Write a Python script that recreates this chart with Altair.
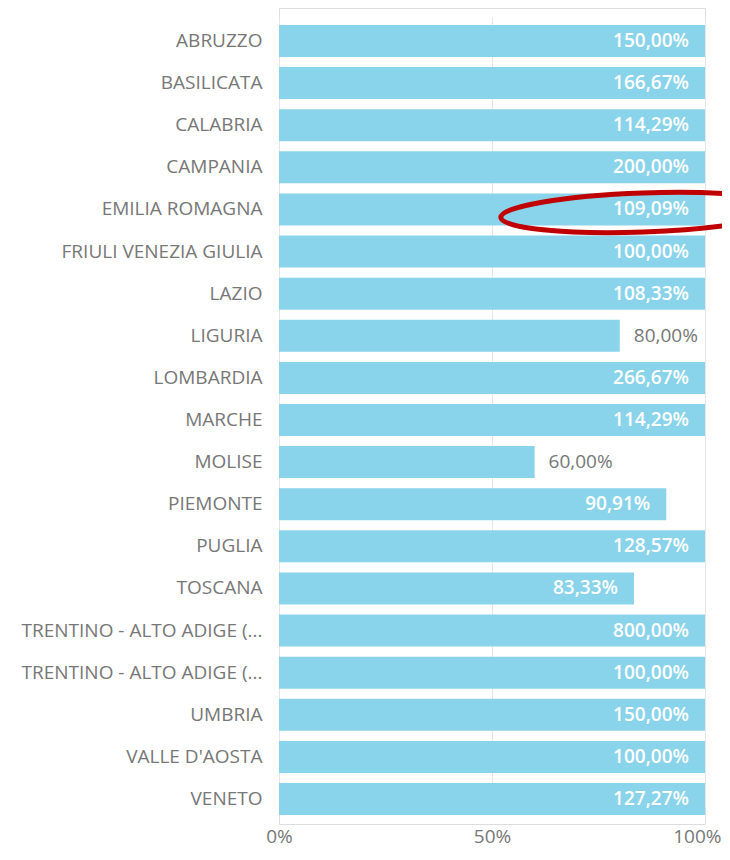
import altair as alt
import pandas as pd

regions = [
    "ABRUZZO", "BASILICATA", "CALABRIA", "CAMPANIA", "EMILIA ROMAGNA",
    "FRIULI VENEZIA GIULIA", "LAZIO", "LIGURIA", "LOMBARDIA", "MARCHE",
    "MOLISE", "PIEMONTE", "PUGLIA", "TOSCANA",
    "TRENTINO - ALTO ADIGE (BOLZANO)", "TRENTINO - ALTO ADIGE (TRENTO)",
    "UMBRIA", "VALLE D'AOSTA", "VENETO",
]
values = [
    150.00, 166.67, 114.29, 200.00, 109.09,
    100.00, 108.33, 80.00, 266.67, 114.29,
    60.00, 90.91, 128.57, 83.33,
    800.00, 100.00,
    150.00, 100.00, 127.27,
]
x_ticks = [0, 50, 100]

highlight_region = ["EMILIA ROMAGNA"]
highlight_pos = [85.5]

FONT = "Open Sans"
FS = 19
BAR = "#8AD4EB"
GREY = "#777777"

df = pd.DataFrame({"regione": regions, "valore": values})
hl = pd.DataFrame({"regione": highlight_region, "pos": highlight_pos})

y_enc = alt.Y(
    "regione:N",
    sort=None,
    title=None,
    scale=alt.Scale(domain=regions, range=[17, 807], paddingInner=0.24, paddingOuter=0),
    axis=alt.Axis(
        domain=False, ticks=False, grid=False,
        labelPadding=17, labelFontSize=FS, labelColor=GREY, labelFont=FONT,
        labelLimit=400,
        labelExpr="length(datum.label) > 24 ? substring(datum.label, 0, 23) + '...' : datum.label",
    ),
)
x_scale = alt.Scale(domain=[0, 100], nice=False)
x_enc = alt.X(
    "shown:Q",
    title=None,
    scale=x_scale,
    axis=alt.Axis(
        values=x_ticks, labelExpr="datum.value + '%'",
        domain=False, ticks=False, grid=True, gridColor="#E6E6E6", gridWidth=1,
        labelPadding=3, labelFontSize=FS, labelColor=GREY, labelFont=FONT,
        labelAlign={"condition": {"test": "datum.value == 100", "value": "right"}, "value": "center"},
        labelOffset={"condition": {"test": "datum.value == 100", "value": 16}, "value": 0},
    ),
)

base = alt.Chart(df).transform_calculate(
    shown="min(datum.valore, 100)",
    label="replace(format(datum.valore, '.2f'), '.', ',') + '%'",
)

bars = base.mark_bar(color=BAR).encode(x=x_enc, y=y_enc)

inside = base.transform_filter("datum.valore >= 82").mark_text(
    align="right", baseline="middle", dx=-16, color="white",
    fontSize=FS, fontWeight=600, font=FONT,
).encode(x=alt.X("shown:Q", scale=x_scale), y=alt.Y("regione:N", sort=None), text="label:N")

outside = base.transform_filter("datum.valore < 82").mark_text(
    align="left", baseline="middle", dx=14, color=GREY,
    fontSize=FS, font=FONT,
).encode(x=alt.X("shown:Q", scale=x_scale), y=alt.Y("regione:N", sort=None), text="label:N")

ellipse_path = "M-1,0A1,0.137 0 1,0 1,0A1,0.137 0 1,0 -1,0Z"
ellipse = alt.Chart(hl).mark_point(
    shape=ellipse_path, size=285 * 285, filled=False, stroke="#C00000",
    strokeWidth=5, opacity=1, angle=358, yOffset=3,
).encode(x=alt.X("pos:Q", scale=x_scale), y=alt.Y("regione:N", sort=None))

chart = alt.layer(bars, inside, outside, ellipse).properties(
    width=426, height=816,
    autosize=alt.AutoSizeParams(type="none"),
    padding={"left": 271, "top": 0, "right": 17, "bottom": 26},
).configure_view(stroke=None).configure(font=FONT)

chart.save("out.html", embed_options={"renderer": "svg", "actions": False})
